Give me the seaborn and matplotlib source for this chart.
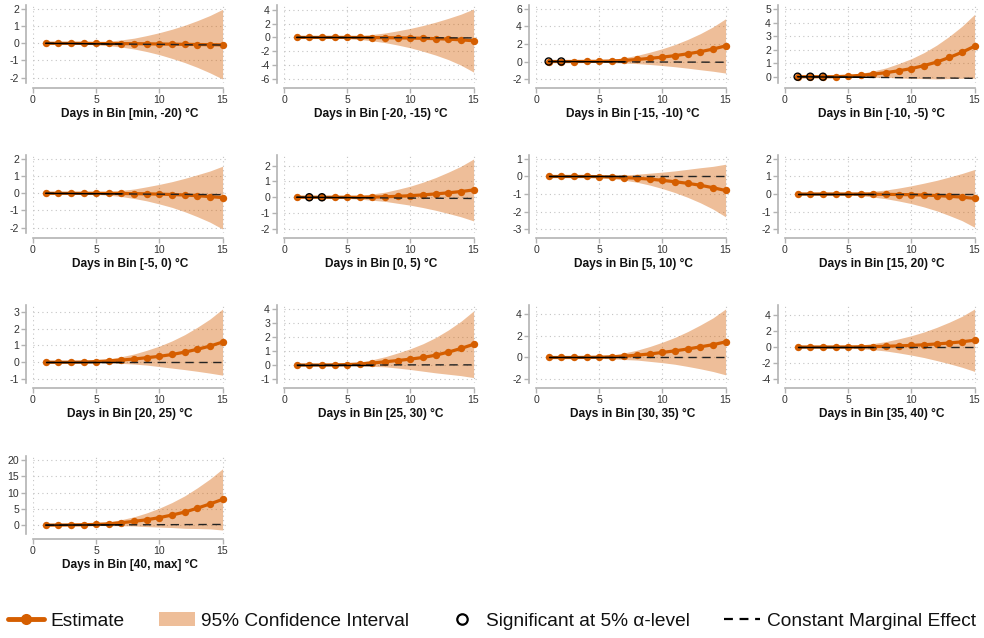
import matplotlib
matplotlib.use("Agg")
import matplotlib.pyplot as plt
import numpy as np
import pandas as pd
import seaborn as sns
from matplotlib.lines import Line2D
from matplotlib.patches import Patch

days = list(range(1, 16))

labels = ["Days in Bin [min, -20) °C", "Days in Bin [-20, -15) °C", "Days in Bin [-15, -10) °C",
          "Days in Bin [-10, -5) °C", "Days in Bin [-5, 0) °C", "Days in Bin [0, 5) °C",
          "Days in Bin [5, 10) °C", "Days in Bin [15, 20) °C", "Days in Bin [20, 25) °C",
          "Days in Bin [25, 30) °C", "Days in Bin [30, 35) °C", "Days in Bin [35, 40) °C",
          "Days in Bin [40, max] °C"]

yticks01 = [-2, -1, 0, 1, 2]
est01 = [0, 0, 0, 0, -0.01, -0.01, -0.02, -0.02, -0.03, -0.04, -0.05, -0.06, -0.07, -0.08, -0.09]
hi01 = [0, 0.01, 0.02, 0.04, 0.07, 0.12, 0.2, 0.3, 0.45, 0.62, 0.82, 1.05, 1.32, 1.62, 1.98]
lo01 = [0, -0.01, -0.02, -0.05, -0.08, -0.14, -0.22, -0.33, -0.48, -0.66, -0.88, -1.12, -1.4, -1.72, -2.08]
cme01 = [0, -0.01, -0.01, -0.02, -0.03, -0.04, -0.04, -0.05, -0.06, -0.06, -0.07, -0.08, -0.09, -0.09, -0.1]
sig01 = []

yticks02 = [-6, -4, -2, 0, 2, 4]
est02 = [0, 0, 0, 0, 0, -0.01, -0.02, -0.04, -0.06, -0.09, -0.13, -0.18, -0.25, -0.35, -0.48]
hi02 = [0, 0.02, 0.04, 0.09, 0.15, 0.26, 0.43, 0.64, 0.95, 1.3, 1.72, 2.2, 2.75, 3.35, 4.1]
lo02 = [0, -0.03, -0.05, -0.1, -0.17, -0.3, -0.5, -0.75, -1.1, -1.5, -2.0, -2.55, -3.2, -4.0, -5.0]
cme02 = [0, 0, -0.01, -0.01, -0.02, -0.02, -0.03, -0.03, -0.04, -0.04, -0.05, -0.05, -0.06, -0.06, -0.07]
sig02 = []

yticks03 = [-2, 0, 2, 4, 6]
est03 = [0, 0, 0, 0.01, 0.02, 0.06, 0.13, 0.23, 0.36, 0.5, 0.67, 0.88, 1.12, 1.42, 1.78]
hi03 = [0, 0.02, 0.03, 0.07, 0.13, 0.25, 0.44, 0.7, 1.06, 1.46, 1.94, 2.52, 3.18, 3.95, 4.88]
lo03 = [0, -0.02, -0.03, -0.05, -0.09, -0.13, -0.18, -0.24, -0.34, -0.46, -0.6, -0.76, -0.94, -1.11, -1.32]
cme03 = [0, -0.01, -0.01, -0.02, -0.03, -0.03, -0.04, -0.05, -0.05, -0.06, -0.06, -0.07, -0.07, -0.08, -0.08]
sig03 = [1, 2]

yticks04 = [0, 1, 2, 3, 4, 5]
est04 = [0, 0, 0, 0, 0.04, 0.1, 0.19, 0.3, 0.44, 0.6, 0.82, 1.08, 1.42, 1.8, 2.25]
hi04 = [0, 0.01, 0.02, 0.05, 0.12, 0.24, 0.43, 0.65, 0.97, 1.33, 1.78, 2.33, 2.98, 3.72, 4.6]
lo04 = [0, -0.01, -0.02, -0.05, -0.04, -0.04, -0.05, -0.05, -0.09, -0.13, -0.14, -0.17, -0.14, -0.12, -0.1]
cme04 = [0, -0.01, -0.02, -0.03, -0.03, -0.04, -0.05, -0.06, -0.07, -0.08, -0.09, -0.09, -0.1, -0.11, -0.12]
sig04 = [1, 2, 3]

yticks05 = [-2, -1, 0, 1, 2]
est05 = [0, 0, 0, 0, 0, 0, -0.01, -0.02, -0.03, -0.05, -0.07, -0.1, -0.14, -0.19, -0.25]
hi05 = [0, 0.01, 0.02, 0.04, 0.06, 0.11, 0.17, 0.25, 0.38, 0.52, 0.68, 0.87, 1.08, 1.3, 1.58]
lo05 = [0, -0.01, -0.02, -0.04, -0.06, -0.11, -0.19, -0.3, -0.44, -0.62, -0.82, -1.07, -1.36, -1.68, -2.08]
cme05 = [0, -0.01, -0.01, -0.02, -0.02, -0.03, -0.03, -0.04, -0.05, -0.05, -0.06, -0.06, -0.07, -0.07, -0.08]
sig05 = []

yticks06 = [-2, -1, 0, 1, 2]
est06 = [0, 0, 0, 0, 0, 0, 0.01, 0.03, 0.06, 0.1, 0.15, 0.21, 0.28, 0.36, 0.46]
hi06 = [0, 0.01, 0.02, 0.04, 0.07, 0.12, 0.21, 0.32, 0.5, 0.7, 0.95, 1.24, 1.58, 1.95, 2.41]
lo06 = [0, -0.01, -0.02, -0.04, -0.07, -0.12, -0.19, -0.26, -0.38, -0.5, -0.65, -0.82, -1.02, -1.23, -1.49]
cme06 = [0, -0.01, -0.01, -0.02, -0.02, -0.03, -0.03, -0.04, -0.05, -0.05, -0.06, -0.06, -0.07, -0.07, -0.08]
sig06 = [2, 3]

yticks07 = [-3, -2, -1, 0, 1]
est07 = [0, 0, 0, 0, -0.01, -0.03, -0.06, -0.1, -0.15, -0.22, -0.3, -0.39, -0.5, -0.64, -0.8]
hi07 = [0, 0.01, 0.02, 0.03, 0.04, 0.06, 0.09, 0.13, 0.19, 0.25, 0.32, 0.41, 0.5, 0.58, 0.7]
lo07 = [0, -0.01, -0.02, -0.03, -0.06, -0.12, -0.21, -0.33, -0.49, -0.69, -0.92, -1.19, -1.5, -1.86, -2.3]
cme07 = [0, 0, 0, 0, 0, 0, 0, 0, 0, 0, 0, 0, 0, 0, 0]
sig07 = []

yticks08 = [-2, -1, 0, 1, 2]
est08 = [0, 0, 0, 0, 0, 0, -0.01, -0.02, -0.03, -0.04, -0.06, -0.09, -0.13, -0.18, -0.25]
hi08 = [0, 0.01, 0.02, 0.03, 0.06, 0.1, 0.16, 0.23, 0.34, 0.47, 0.62, 0.78, 0.97, 1.17, 1.4]
lo08 = [0, -0.01, -0.02, -0.03, -0.06, -0.1, -0.18, -0.27, -0.4, -0.55, -0.74, -0.96, -1.23, -1.52, -1.9]
cme08 = [0, 0, 0, 0, 0, 0, 0, 0, 0, 0, 0, 0, 0, 0, 0]
sig08 = []

yticks09 = [-1, 0, 1, 2, 3]
est09 = [0, 0, 0, 0.01, 0.04, 0.08, 0.13, 0.19, 0.27, 0.35, 0.46, 0.6, 0.77, 0.96, 1.2]
hi09 = [0, 0.01, 0.02, 0.05, 0.11, 0.2, 0.33, 0.49, 0.71, 0.96, 1.27, 1.64, 2.08, 2.57, 3.17]
lo09 = [0, -0.01, -0.02, -0.03, -0.03, -0.04, -0.07, -0.11, -0.17, -0.26, -0.35, -0.44, -0.54, -0.65, -0.77]
cme09 = [0, 0, 0, 0, 0, 0, 0, 0, 0, 0, 0, 0, 0, 0, 0]
sig09 = []

yticks10 = [-1, 0, 1, 2, 3, 4]
est10 = [0, 0, 0, 0.01, 0.03, 0.07, 0.14, 0.23, 0.32, 0.42, 0.54, 0.7, 0.92, 1.18, 1.48]
hi10 = [0, 0.01, 0.02, 0.06, 0.11, 0.21, 0.38, 0.59, 0.86, 1.16, 1.52, 1.96, 2.5, 3.12, 3.86]
lo10 = [0, -0.01, -0.02, -0.04, -0.05, -0.07, -0.1, -0.13, -0.22, -0.32, -0.44, -0.56, -0.66, -0.76, -0.9]
cme10 = [0, 0, 0, 0, 0, 0, 0, 0, 0.01, 0.01, 0.01, 0.01, 0.01, 0.01, 0.01]
sig10 = []

yticks11 = [-2, 0, 2, 4]
est11 = [0, 0, 0, 0.01, 0.03, 0.06, 0.12, 0.22, 0.33, 0.47, 0.62, 0.79, 0.99, 1.19, 1.45]
hi11 = [0, 0.02, 0.03, 0.07, 0.14, 0.24, 0.43, 0.68, 1.02, 1.42, 1.87, 2.41, 3.02, 3.68, 4.51]
lo11 = [0, -0.02, -0.03, -0.05, -0.08, -0.12, -0.19, -0.24, -0.36, -0.48, -0.63, -0.83, -1.05, -1.3, -1.61]
cme11 = [0, 0, 0, 0, 0, 0, 0, 0, 0, 0, 0, 0, 0, 0, 0]
sig11 = []

yticks12 = [-4, -2, 0, 2, 4]
est12 = [0, 0, 0, 0, 0.01, 0.02, 0.05, 0.09, 0.14, 0.2, 0.28, 0.38, 0.5, 0.65, 0.85]
hi12 = [0, 0.02, 0.04, 0.08, 0.15, 0.25, 0.44, 0.68, 1.02, 1.41, 1.88, 2.45, 3.1, 3.83, 4.75]
lo12 = [0, -0.02, -0.04, -0.08, -0.13, -0.21, -0.34, -0.5, -0.74, -1.01, -1.32, -1.69, -2.09, -2.53, -3.05]
cme12 = [0, 0, 0, 0, 0, 0, 0, 0, 0, 0, 0, 0, 0, 0, 0]
sig12 = []

yticks13 = [0, 5, 10, 15, 20]
est13 = [0, 0.02, 0.06, 0.12, 0.22, 0.4, 0.75, 1.15, 1.65, 2.3, 3.1, 4.0, 5.2, 6.5, 7.9]
hi13 = [0, 0.07, 0.15, 0.31, 0.55, 0.96, 1.69, 2.56, 3.76, 5.21, 6.95, 8.98, 11.45, 14.16, 17.3]
lo13 = [0, -0.03, -0.03, -0.07, -0.11, -0.16, -0.19, -0.26, -0.46, -0.61, -0.75, -0.98, -1.05, -1.16, -1.5]
cme13 = [0, 0.01, 0.03, 0.04, 0.06, 0.07, 0.09, 0.1, 0.11, 0.13, 0.14, 0.16, 0.17, 0.19, 0.2]
sig13 = []

xticks = [0, 5, 10, 15]
solid_until = 7

panels = [
    (yticks01, est01, lo01, hi01, cme01, sig01),
    (yticks02, est02, lo02, hi02, cme02, sig02),
    (yticks03, est03, lo03, hi03, cme03, sig03),
    (yticks04, est04, lo04, hi04, cme04, sig04),
    (yticks05, est05, lo05, hi05, cme05, sig05),
    (yticks06, est06, lo06, hi06, cme06, sig06),
    (yticks07, est07, lo07, hi07, cme07, sig07),
    (yticks08, est08, lo08, hi08, cme08, sig08),
    (yticks09, est09, lo09, hi09, cme09, sig09),
    (yticks10, est10, lo10, hi10, cme10, sig10),
    (yticks11, est11, lo11, hi11, cme11, sig11),
    (yticks12, est12, lo12, hi12, cme12, sig12),
    (yticks13, est13, lo13, hi13, cme13, sig13),
]

ORANGE = "#D55E00"
SPINE = "#b3b3b3"

sns.set_theme(style="white")
plt.rcParams["font.family"] = ["Liberation Sans", "DejaVu Sans"]
plt.rcParams["axes.unicode_minus"] = False

W, H = 984, 638
fig = plt.figure(figsize=(W / 100, H / 100), dpi=100)

col_left = [33, 284, 536, 785]
row_top = [5, 155, 305, 456]
ax_w, ax_h = 194, 78

for i, (yt, est, lo, hi, cme, sig) in enumerate(panels):
    r, c = divmod(i, 4)
    ax = fig.add_axes([col_left[c] / W, (H - row_top[r] - ax_h) / H, ax_w / W, ax_h / H])
    df = pd.DataFrame({"day": days, "est": est, "lo": lo, "hi": hi, "cme": cme})

    ax.fill_between(df["day"], df["lo"], df["hi"], color=ORANGE, alpha=0.4, lw=0, zorder=2)
    sns.lineplot(data=df, x="day", y="est", ax=ax, color=ORANGE, lw=2.3, marker="o",
                 markersize=5.3, markeredgewidth=0, zorder=3)
    ax.plot(df["day"], df["cme"], color="#222222", lw=1.0, ls=(0, (6, 4)), zorder=4)
    solid = df[df["day"] <= solid_until]
    ax.plot(solid["day"], solid["cme"], color="black", lw=1.0, zorder=5)
    sdf = df[df["day"].isin(sig)]
    if len(sdf):
        ax.scatter(sdf["day"], sdf["est"], s=26, facecolors="none", edgecolors="black",
                   linewidths=1.0, zorder=6)

    ymin = min(min(yt), min(lo))
    ymax = max(max(yt), max(hi))
    pad = (ymax - ymin) * 0.057
    ax.set_ylim(ymin - pad, ymax + pad)
    ax.set_xlim(0, 15.35)
    ax.set_yticks(yt)
    ax.set_xticks(xticks)

    ax.grid(True, ls=(0, (1, 3)), color="#c4c4c4", lw=0.8)
    for s in ["top", "right"]:
        ax.spines[s].set_visible(False)
    for s in ["left", "bottom"]:
        ax.spines[s].set_color(SPINE)
        ax.spines[s].set_linewidth(1.2)
    ax.spines["left"].set_position(("outward", 5))
    ax.spines["bottom"].set_position(("outward", 3.6))
    ax.spines["bottom"].set_bounds(0, 15)
    ax.tick_params(axis="both", which="both", labelsize=7.6, colors=SPINE, labelcolor="#333333",
                   length=3.5, width=1.0, pad=1.5, left=True, bottom=True)
    ax.set_ylabel("")
    ax.set_xlabel(labels[i], fontsize=8.6, fontweight="bold", color="#111111", labelpad=2)

handles = [
    Line2D([0], [0], color=ORANGE, lw=3.5, marker="o", markersize=8, markeredgewidth=0),
    Patch(facecolor=ORANGE, alpha=0.4, edgecolor="none"),
    Line2D([0], [0], lw=0, marker="o", markersize=7.5, markerfacecolor="white",
           markeredgecolor="black", markeredgewidth=1.6),
    Line2D([0], [0], color="black", lw=1.6, ls=(0, (4, 3))),
]
leg_labels = ["Estimate", "95% Confidence Interval", "Significant at 5% α-level",
              "Constant Marginal Effect"]
fig.legend(handles, leg_labels, loc="center", bbox_to_anchor=(0.5, (H - 621) / H), ncol=4,
           frameon=False, fontsize=13.8, handlelength=1.85, handletextpad=0.35,
           columnspacing=1.8, borderaxespad=0, labelcolor="#111111")

fig.savefig("out.png", dpi=100)
